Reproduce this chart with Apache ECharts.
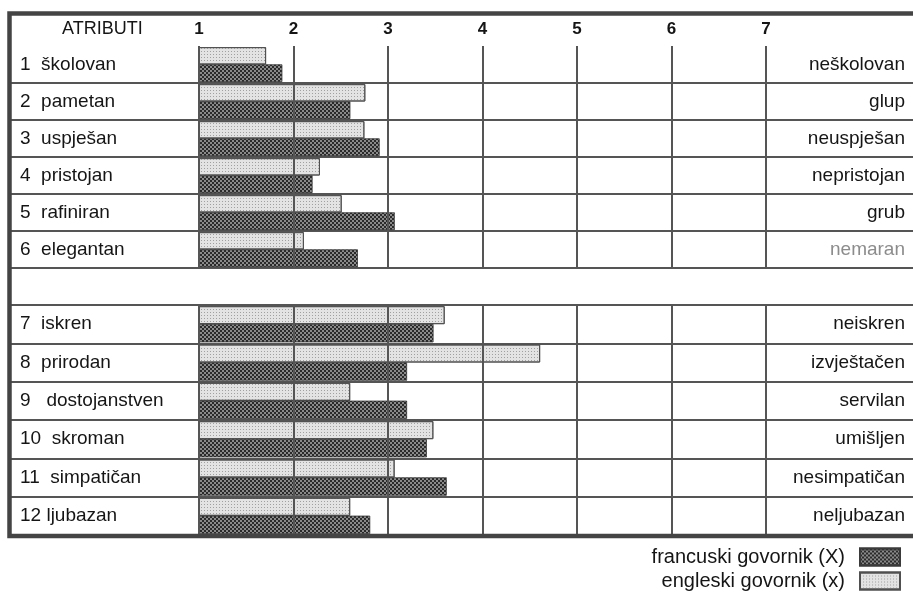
<!DOCTYPE html>
<html><head><meta charset="utf-8">
<script src="https://cdn.jsdelivr.net/npm/echarts@6/dist/echarts.min.js"></script>
<style>html,body{margin:0;padding:0;background:#fff}#c{width:913px;height:595px}</style>
</head><body><div id="c"></div>
<script>
// ---- data ----
const leftLabels = ['1  školovan','2  pametan','3  uspješan','4  pristojan','5  rafiniran','6  elegantan',
  '7  iskren','8  prirodan','9   dostojanstven','10  skroman','11  simpatičan','12 ljubazan'];
const rightLabels = ['neškolovan','glup','neuspješan','nepristojan','grub','nemaran',
  'neiskren','izvještačen','servilan','umišljen','nesimpatičan','neljubazan'];
const engleski  = [1.71, 2.76, 2.75, 2.28, 2.51, 2.11, 3.60, 4.61, 2.60, 3.48, 3.07, 2.60];
const francuski = [1.88, 2.60, 2.91, 2.20, 3.07, 2.68, 3.48, 3.20, 3.20, 3.41, 3.62, 2.81];
const scaleTicks = [1, 2, 3, 4, 5, 6, 7];
const headerLabel = 'ATRIBUTI';
const seriesNames = ['francuski govornik (X)', 'engleski govornik (x)'];
const groupSize = 6;

// ---- layout/style ----
const FONT = '"Liberation Sans", Arial, Helvetica, sans-serif';
const TXT = '#151515';
const LINE = '#555';
const A = {top: 46, height: 222};
const B = {top: 305, height: 230};
const barLeft = 199, barRight = 147;

const split = arr => [arr.slice(0, groupSize), arr.slice(groupSize)];
const [leftA, leftB] = split(leftLabels);
const [rightA, rightB] = split(rightLabels);
const [engA, engB] = split(engleski);
const [frA, frB] = split(francuski);
const muted = v => v === 'nemaran' ? {value: v, textStyle: {color: '#8c8c8c'}} : v;

const darkStyle = {
  color: '#8a8a8a',
  borderColor: '#3a3a3a', borderWidth: 0.5,
  decal: {symbol: 'rect', symbolSize: 1, color: '#2a2a2a',
          dashArrayX: [[2, 2], [0, 2, 2, 0]], dashArrayY: [2, 0]}
};
const lightStyle = {
  color: '#e3e3e3',
  borderColor: '#505050', borderWidth: 1,
  decal: {symbol: 'rect', symbolSize: 1, color: '#a0a0a0',
          dashArrayX: [1, 2], dashArrayY: [1, 2]}
};

function tableY(grid, data, pos, showSplit, skipFirst) {
  return {
    type: 'category', gridIndex: grid, inverse: true, position: pos,
    data: data,
    axisLine: {show: false}, axisTick: {show: false},
    axisLabel: {inside: true, margin: pos === 'left' ? 12 : 8,
      align: pos === 'left' ? 'left' : 'right',
      fontSize: 19, fontFamily: FONT, color: TXT},
    splitLine: {show: showSplit, interval: skipFirst ? (i => i !== 0) : 0,
      lineStyle: {color: LINE, width: 2}}
  };
}
function barX(grid, showLabels) {
  return {
    type: 'value', gridIndex: grid, min: scaleTicks[0], max: scaleTicks[scaleTicks.length - 1],
    interval: 1, position: 'top', z: 5,
    axisLine: {show: false}, axisTick: {show: false},
    axisLabel: {show: showLabels, margin: 8, fontSize: 17, fontWeight: 'bold',
      fontFamily: FONT, color: TXT},
    splitLine: {show: true, lineStyle: {color: LINE, width: 2}}
  };
}
const hiddenY = (grid, data) => ({type: 'category', gridIndex: grid, inverse: true, data: data, show: false});

const bar = (name, x, y, data, style) => ({
  type: 'bar', name: name, xAxisIndex: x, yAxisIndex: y, data: data,
  barWidth: '47%', barGap: '0%', itemStyle: style, silent: true, animation: false
});

const chart = echarts.init(document.getElementById('c'), null, {renderer: 'canvas'});
chart.setOption({
  animation: false,
  backgroundColor: '#fff',
  title: {text: headerLabel, left: 62, top: 20, padding: 0,
    textStyle: {fontSize: 18, fontWeight: 'normal', fontFamily: FONT, color: TXT}},
  legend: {
    data: seriesNames, orient: 'vertical', right: 12, top: 547, align: 'right',
    padding: 0, itemWidth: 40, itemHeight: 17, itemGap: 4, icon: 'rect',
    textStyle: {fontSize: 20, fontFamily: FONT, color: TXT, padding: [0, 10, 0, 0]},
    selectedMode: false
  },
  grid: [
    {left: 8, right: 0, top: A.top, height: A.height},
    {left: 8, right: 0, top: B.top, height: B.height},
    {left: barLeft, right: barRight, top: A.top, height: A.height},
    {left: barLeft, right: barRight, top: B.top, height: B.height}
  ],
  xAxis: [
    {type: 'value', gridIndex: 0, show: false},
    {type: 'value', gridIndex: 1, show: false},
    barX(2, true),
    barX(3, false)
  ],
  yAxis: [
    tableY(0, leftA, 'left', true, true),
    tableY(0, rightA.map(muted), 'right', false, false),
    tableY(1, leftB, 'left', true, false),
    tableY(1, rightB.map(muted), 'right', false, false),
    hiddenY(2, leftA),
    hiddenY(3, leftB)
  ],
  graphic: [{
    type: 'rect', silent: true, z: 100,
    shape: {x: 9.5, y: 13.5, width: 1000, height: 522.5},
    style: {fill: null, stroke: '#444', lineWidth: 4.5}
  }],
  series: [
    bar(seriesNames[1], 2, 4, engA, lightStyle),
    bar(seriesNames[0], 2, 4, frA, darkStyle),
    bar(seriesNames[1], 3, 5, engB, lightStyle),
    bar(seriesNames[0], 3, 5, frB, darkStyle)
  ]
});
</script></body></html>
